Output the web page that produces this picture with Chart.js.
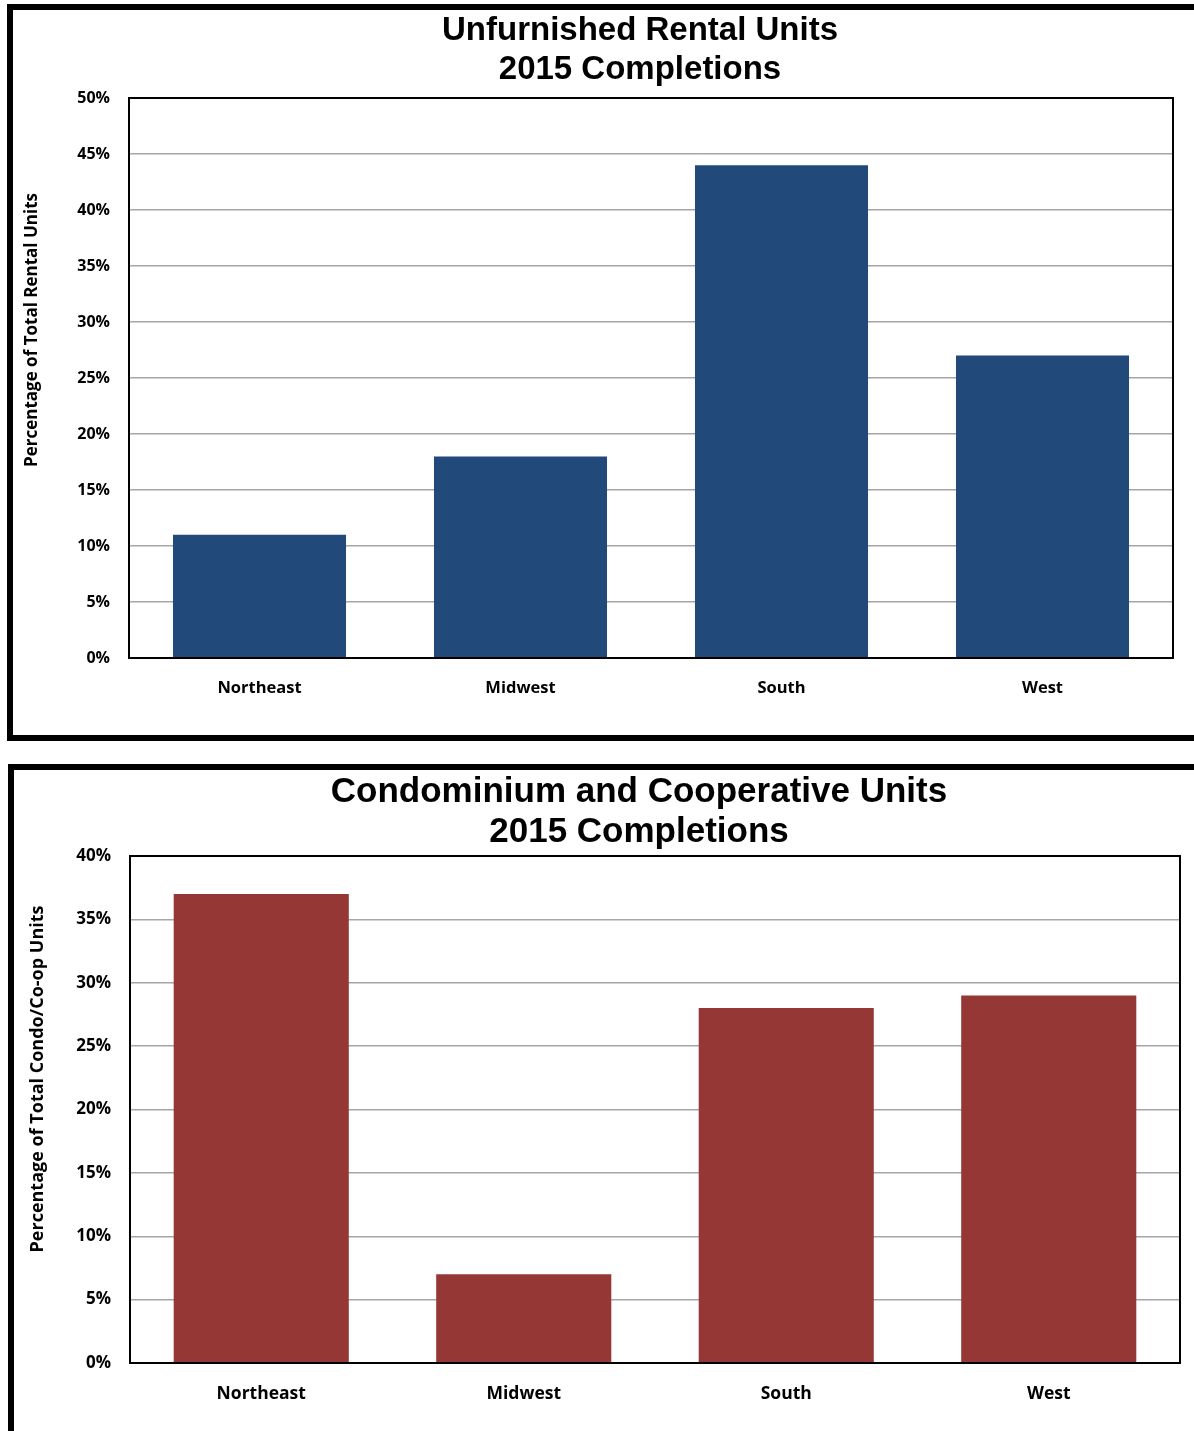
<!DOCTYPE html>
<html><head><meta charset="utf-8">
<script src="https://cdn.jsdelivr.net/npm/chart.js@4.4.1/dist/chart.umd.min.js"></script>
<style>
html,body{margin:0;padding:0;overflow:hidden;background:#fff;width:1194px;height:1431px;}
#page{position:relative;width:1194px;height:1431px;overflow:hidden;background:#fff;}
.frame{position:absolute;border:6px solid #000;box-sizing:border-box;}
.box{position:absolute;left:0;width:1194px;}
</style></head><body>
<div id="page">
<div class="frame" style="left:7px;top:4px;width:1300px;height:737px"></div>
<div class="frame" style="left:8px;top:764px;width:1300px;height:800px"></div>
<div class="box" style="top:0;height:745px"><canvas id="c1"></canvas></div>
<div class="box" style="top:745px;height:686px"><canvas id="c2"></canvas></div>
</div>
<script>
const categories = ['Northeast', 'Midwest', 'South', 'West'];
const rentalShares = [11, 18, 44, 27];
const condoShares = [37, 7, 28, 29];
const rentalTitle = ['Unfurnished Rental Units', '2015 Completions'];
const condoTitle = ['Condominium and Cooperative Units', '2015 Completions'];
const rentalAxisTitle = 'Percentage of Total Rental Units';
const condoAxisTitle = 'Percentage of Total Condo/Co-op Units';
const rentalMax = 50;
const condoMax = 40;
const tickStep = 5;

const plotFrame = {
  id: 'plotFrame',
  afterDraw(chart, args, o) {
    const {ctx, chartArea: a} = chart;
    ctx.save();
    ctx.strokeStyle = '#000';
    ctx.lineWidth = 2;
    ctx.strokeRect(a.left, a.top, a.right - a.left, a.bottom - a.top);
    // chart title
    ctx.fillStyle = '#000';
    ctx.textAlign = 'center';
    ctx.textBaseline = 'alphabetic';
    ctx.font = o.titleFont;
    o.title.forEach((line, i) => ctx.fillText(line, o.titleX, o.titleY[i]));
    // y axis title
    ctx.translate(o.x, o.y);
    ctx.rotate(-Math.PI / 2);
    ctx.font = o.font;
    ctx.textBaseline = 'middle';
    ctx.fillText(o.text, 0, 0);
    ctx.restore();
  }
};

function makeChart(id, p) {
  return new Chart(document.getElementById(id), {
    type: 'bar',
    data: {
      labels: categories,
      datasets: [{
        data: p.values,
        backgroundColor: p.color,
        borderWidth: 0,
        barPercentage: p.barPct,
        categoryPercentage: 1
      }]
    },
    plugins: [plotFrame],
    options: {
      responsive: true,
      maintainAspectRatio: false,
      animation: false,
      layout: { padding: { left: 0, right: p.padR, top: p.padT, bottom: 0 } },
      plugins: {
        legend: { display: false },
        tooltip: { enabled: false },
        title: { display: false },
        plotFrame: {
          text: p.axisTitle, x: p.axX, y: p.axY, font: 'bold ' + p.axSize + 'px "Open Sans"',
          title: p.title, titleX: p.titleX, titleY: p.titleY,
          titleFont: 'bold ' + p.titleSize + 'px "Liberation Sans"'
        }
      },
      scales: {
        x: {
          grid: { display: false },
          border: { display: false },
          ticks: {
            color: '#000',
            padding: p.xPad,
            font: { family: 'Open Sans', weight: 'bold', size: p.xSize }
          },
          afterFit(s) { s.height = p.xHeight; }
        },
        y: {
          min: 0,
          max: p.max,
          border: { display: false },
          grid: { color: '#a6a6a6', lineWidth: 1.5, drawTicks: false },
          ticks: {
            stepSize: tickStep,
            autoSkip: false,
            color: '#000',
            padding: p.yPad,
            font: { family: 'Open Sans', weight: 'bold', size: p.ySize },
            callback: v => v + '%'
          },
          afterFit(s) { s.width = p.yWidth; }
        }
      }
    }
  });
}

makeChart('c1', {
  values: rentalShares, color: '#214A7B', barPct: 0.663, max: rentalMax,
  title: rentalTitle, titleSize: 33, titleX: 640, titleY: [40, 79],
  padT: 98, padR: 21, yWidth: 129, yPad: 19, ySize: 16,
  xHeight: 87, xPad: 12, xSize: 16.5,
  axisTitle: rentalAxisTitle, axX: 32, axY: 330, axSize: 17
});

makeChart('c2', {
  values: condoShares, color: '#953735', barPct: 0.667, max: condoMax,
  title: condoTitle, titleSize: 35, titleX: 639, titleY: [57, 97],
  padT: 111, padR: 14, yWidth: 130, yPad: 19, ySize: 17,
  xHeight: 68, xPad: 13, xSize: 17.5,
  axisTitle: condoAxisTitle, axX: 38, axY: 334, axSize: 18
});
</script>
</body></html>
